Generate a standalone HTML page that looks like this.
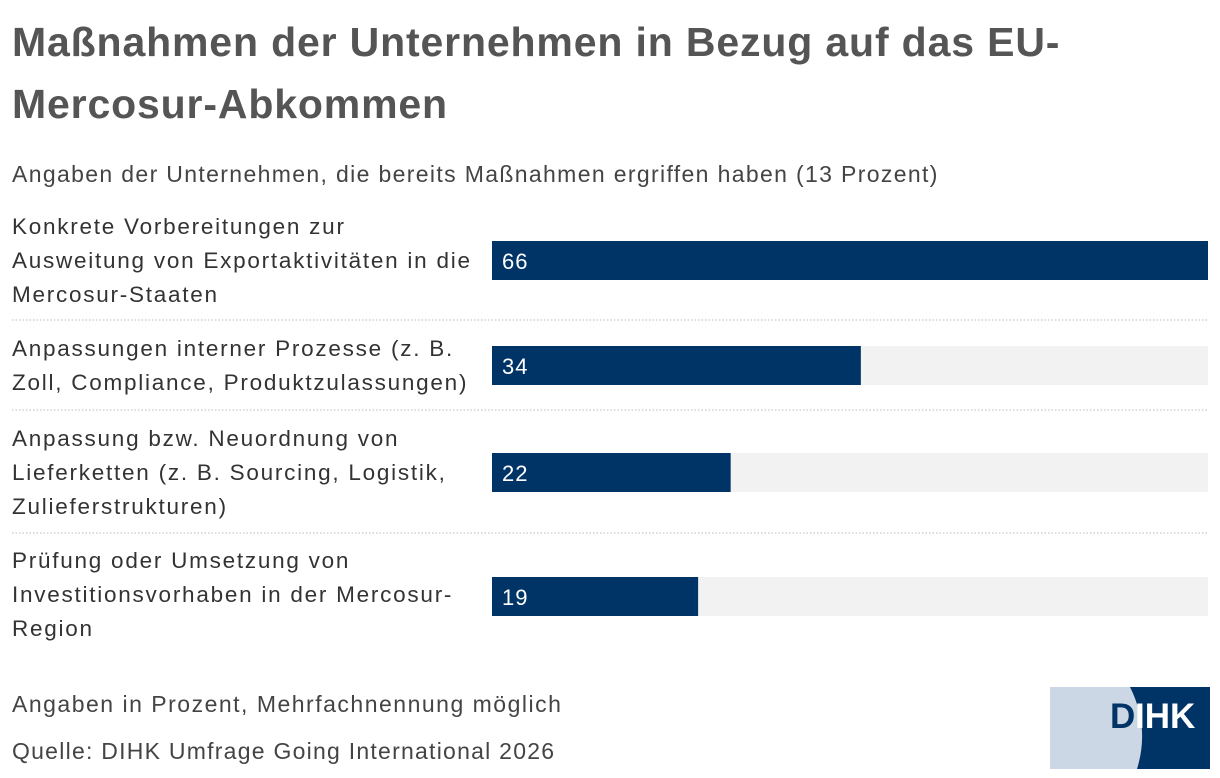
<!DOCTYPE html>
<html><head><meta charset="utf-8"><style>
body{margin:0;width:1220px;height:778px;background:#fff;font-family:"Liberation Sans",sans-serif;color:#333;position:relative;overflow:hidden}
.t{position:absolute;left:12px;top:11px;font-size:41px;font-weight:bold;color:#555;line-height:62px;letter-spacing:0.85px}
.sub{position:absolute;left:12px;top:161px;font-size:23px;color:#444;letter-spacing:1.35px}
.lab{position:absolute;left:12px;font-size:22.5px;line-height:34px;color:#333;width:480px;letter-spacing:1.75px}
.foot{position:absolute;left:12px;font-size:23px;color:#444}
</style></head><body>
<div class="t">Maßnahmen der Unternehmen in Bezug auf das EU-<br>Mercosur-Abkommen</div>
<div class="sub">Angaben der Unternehmen, die bereits Maßnahmen ergriffen haben (13 Prozent)</div>
<div id="labels"></div>
<svg id="chart" width="1220" height="778" style="position:absolute;left:0;top:0"></svg>
<div class="foot" style="top:691px;letter-spacing:1.5px">Angaben in Prozent, Mehrfachnennung möglich</div>
<div class="foot" style="top:738px;letter-spacing:1.25px">Quelle: DIHK Umfrage Going International 2026</div>
<svg width="160" height="82" style="position:absolute;left:1050px;top:687px">
<rect width="160" height="82" fill="#cbd7e4"/>
<path d="M80 0 H160 V82 H87 Q100 40 80 0Z" fill="#003366"/>
<text x="60" y="41" font-family="Liberation Sans" font-weight="bold" font-size="35" fill="#003366">D</text>
<text x="85" y="41" font-family="Liberation Sans" font-weight="bold" font-size="35" fill="#fff">IHK</text>
</svg>
<script>
const categories=[["Konkrete Vorbereitungen zur","Ausweitung von Exportaktivitäten in die","Mercosur-Staaten"],["Anpassungen interner Prozesse (z. B.","Zoll, Compliance, Produktzulassungen)"],["Anpassung bzw. Neuordnung von","Lieferketten (z. B. Sourcing, Logistik,","Zulieferstrukturen)"],["Prüfung oder Umsetzung von","Investitionsvorhaben in der Mercosur-","Region"]];
const values=[66,34,22,19];
const maxVal=66;
const svg=document.getElementById('chart');
const NS='http://www.w3.org/2000/svg';
const x0=492,w=716;
const xs=v=>v/maxVal*w;
const barY=[241,346,453,577];
const labY=[210,332,422,544];
const sepY=[320,410,533];
const lab=document.getElementById('labels');
categories.forEach((c,i)=>{
  const d=document.createElement('div');d.className='lab';d.style.top=labY[i]+'px';d.innerHTML=c.join('<br>');
  
  
  lab.appendChild(d);
  const bg=document.createElementNS(NS,'rect');
  bg.setAttribute('x',x0);bg.setAttribute('y',barY[i]);bg.setAttribute('width',w);bg.setAttribute('height',39);bg.setAttribute('fill','#f2f2f2');
  
  
  svg.appendChild(bg);
  const r=document.createElementNS(NS,'rect');
  r.setAttribute('x',x0);r.setAttribute('y',barY[i]);r.setAttribute('width',xs(values[i]));r.setAttribute('height',39);r.setAttribute('fill','#003366');
  
  
  svg.appendChild(r);
  const t=document.createElementNS(NS,'text');
  t.setAttribute('x',x0+10);t.setAttribute('y',barY[i]+28);t.setAttribute('fill','#fff');t.setAttribute('font-size','22');t.setAttribute('font-family','Liberation Sans');t.setAttribute('letter-spacing','1');
  t.textContent=values[i];
  
  
  svg.appendChild(t);
});
sepY.forEach(y=>{
  const l=document.createElementNS(NS,'line');
  l.setAttribute('x1',12);l.setAttribute('x2',1208);l.setAttribute('y1',y);l.setAttribute('y2',y);
  l.setAttribute('stroke','#bbb');l.setAttribute('stroke-dasharray','1.5,2');
  
  
  svg.appendChild(l);
});
</script>
</body></html>
